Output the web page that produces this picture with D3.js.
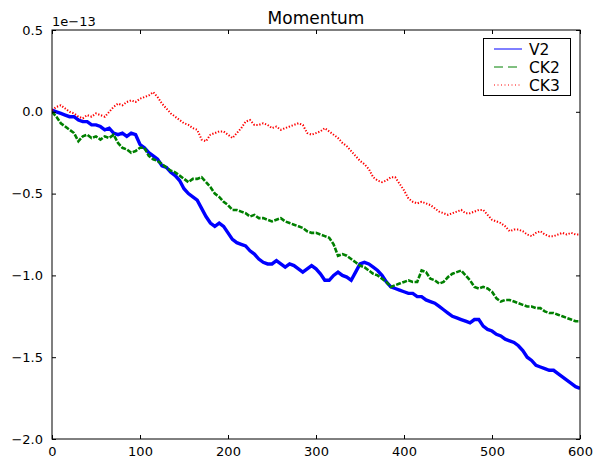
<!DOCTYPE html>
<html>
<head>
<meta charset="utf-8">
<script src="https://cdn.jsdelivr.net/npm/d3@7/dist/d3.min.js"></script>
<style>
  html, body { margin: 0; padding: 0; background: #fff; }
  svg { display: block; }
  text { font-family: "DejaVu Sans", sans-serif; fill: #000; }
</style>
</head>
<body>
<svg id="chart" width="607" height="461"></svg>
<script>
// ---- data (values in units of 1e-13) ----
const xStep = 5;
const xValues = d3.range(0, 601, xStep);
const xTicks = [0, 100, 200, 300, 400, 500, 600];
const yTicks = [0.5, 0.0, -0.5, -1.0, -1.5, -2.0];
const seriesNames = ["V2", "CK2", "CK3"];
const offsetLabel = "1e\u221213";
const titleText = "Momentum";

const v2 = [
  0.01, 0.00, -0.01, -0.02, -0.03, -0.03, -0.05, -0.06, -0.06, -0.08,
  -0.08, -0.09, -0.11, -0.10, -0.13, -0.14, -0.13, -0.15, -0.13, -0.14,
  -0.20, -0.22, -0.25, -0.27, -0.29, -0.33, -0.34, -0.37, -0.39, -0.42,
  -0.47, -0.50, -0.52, -0.54, -0.59, -0.64, -0.68, -0.70, -0.68, -0.70,
  -0.74, -0.78, -0.80, -0.81, -0.82, -0.85, -0.87, -0.90, -0.92, -0.93,
  -0.93, -0.91, -0.93, -0.95, -0.93, -0.94, -0.96, -0.98, -0.96, -0.94,
  -0.96, -0.99, -1.03, -1.03, -1.00, -0.98, -1.00, -1.01, -1.03, -0.98,
  -0.93, -0.92, -0.93, -0.95, -0.97, -1.00, -1.04, -1.07, -1.08, -1.09,
  -1.10, -1.11, -1.11, -1.13, -1.13, -1.15, -1.16, -1.17, -1.19, -1.21,
  -1.23, -1.25, -1.26, -1.27, -1.28, -1.29, -1.27, -1.27, -1.31, -1.33,
  -1.34, -1.36, -1.37, -1.39, -1.40, -1.41, -1.43, -1.46, -1.50, -1.52,
  -1.55, -1.56, -1.57, -1.58, -1.58, -1.60, -1.62, -1.64, -1.66, -1.68,
  -1.69
];
const ck2 = [
  0.00, -0.03, -0.07, -0.09, -0.11, -0.13, -0.18, -0.15, -0.14, -0.16,
  -0.15, -0.17, -0.15, -0.16, -0.14, -0.19, -0.22, -0.23, -0.25, -0.24,
  -0.22, -0.22, -0.27, -0.29, -0.30, -0.32, -0.34, -0.36, -0.37, -0.39,
  -0.41, -0.43, -0.41, -0.41, -0.40, -0.43, -0.46, -0.50, -0.52, -0.55,
  -0.57, -0.60, -0.60, -0.61, -0.62, -0.64, -0.63, -0.65, -0.65, -0.66,
  -0.67, -0.66, -0.65, -0.67, -0.68, -0.69, -0.70, -0.71, -0.73, -0.74,
  -0.74, -0.75, -0.76, -0.77, -0.81, -0.88, -0.87, -0.88, -0.90, -0.92,
  -0.94, -0.95, -0.97, -0.99, -1.00, -1.02, -1.04, -1.07, -1.06, -1.05,
  -1.04, -1.03, -1.04, -1.04, -0.97, -0.98, -1.02, -1.03, -1.05, -1.04,
  -1.01, -0.99, -0.98, -0.97, -1.00, -1.03, -1.07, -1.08, -1.07, -1.08,
  -1.10, -1.14, -1.16, -1.15, -1.15, -1.16, -1.17, -1.18, -1.19, -1.19,
  -1.20, -1.20, -1.22, -1.23, -1.23, -1.24, -1.25, -1.26, -1.27, -1.28,
  -1.28
];
const ck3 = [
  0.01, 0.03, 0.04, 0.02, 0.00, -0.01, -0.03, -0.04, -0.02, -0.03,
  -0.01, -0.02, -0.03, 0.00, 0.03, 0.05, 0.04, 0.06, 0.07, 0.06,
  0.08, 0.09, 0.10, 0.12, 0.09, 0.05, 0.02, -0.01, -0.03, -0.05,
  -0.07, -0.08, -0.10, -0.11, -0.17, -0.18, -0.14, -0.13, -0.12, -0.12,
  -0.14, -0.16, -0.13, -0.10, -0.06, -0.05, -0.08, -0.08, -0.07, -0.08,
  -0.10, -0.09, -0.11, -0.10, -0.09, -0.08, -0.07, -0.08, -0.13, -0.14,
  -0.13, -0.12, -0.10, -0.12, -0.14, -0.16, -0.19, -0.21, -0.24, -0.27,
  -0.30, -0.32, -0.35, -0.40, -0.42, -0.43, -0.42, -0.40, -0.40, -0.44,
  -0.48, -0.53, -0.55, -0.56, -0.55, -0.56, -0.57, -0.59, -0.61, -0.62,
  -0.63, -0.62, -0.61, -0.60, -0.62, -0.62, -0.61, -0.60, -0.60, -0.63,
  -0.66, -0.67, -0.68, -0.70, -0.73, -0.72, -0.72, -0.73, -0.75, -0.76,
  -0.74, -0.73, -0.75, -0.76, -0.76, -0.75, -0.74, -0.75, -0.74, -0.75,
  -0.75
];

// ---- layout ----
const svg = d3.select("#chart");
const L = 52, R = 580, T = 30, B = 439;
const x = d3.scaleLinear().domain([0, 600]).range([L, R]);
const y = d3.scaleLinear().domain([-2.0, 0.5]).range([B, T]);

const styles = [
  { name: seriesNames[0], data: v2,  color: "#0000ff", width: 3.4, dash: null,      legDash: null,  legWidth: 1 },
  { name: seriesNames[1], data: ck2, color: "#008000", width: 2.6, dash: "5,1.5",   legDash: "9,5", legWidth: 1 },
  { name: seriesNames[2], data: ck3, color: "#ff0000", width: 2.0, dash: "1.3,1.7", legDash: "1,2.5", legWidth: 1 }
];

const line = d3.line().x((d, i) => x(xValues[i])).y(d => y(d));

svg.append("defs").append("clipPath").attr("id", "clip")
  .append("rect").attr("x", L).attr("y", T).attr("width", R - L).attr("height", B - T);

const plot = svg.append("g").attr("clip-path", "url(#clip)");
styles.forEach(s => {
  plot.append("path")
    .datum(s.data)
    .attr("d", line)
    .attr("fill", "none")
    .attr("stroke", s.color)
    .attr("stroke-width", s.width)
    .attr("stroke-linejoin", "miter")
    .attr("stroke-dasharray", s.dash);
});

// ---- axes ----
const fmt = d3.format(".1f");
const fontSize = 13;

const gB = svg.append("g").attr("transform", `translate(0,${B})`)
  .call(d3.axisBottom(x).tickValues(xTicks).tickSizeInner(-4).tickSizeOuter(0).tickPadding(8).tickFormat(d3.format("d")));
const gT = svg.append("g").attr("transform", `translate(0,${T})`)
  .call(d3.axisTop(x).tickValues(xTicks).tickSizeInner(-4).tickSizeOuter(0).tickFormat(""));
const gL = svg.append("g").attr("transform", `translate(${L},0)`)
  .call(d3.axisLeft(y).tickValues(yTicks).tickSizeInner(-4).tickSizeOuter(0).tickPadding(9).tickFormat(fmt));
const gR = svg.append("g").attr("transform", `translate(${R},0)`)
  .call(d3.axisRight(y).tickValues(yTicks).tickSizeInner(-4).tickSizeOuter(0).tickFormat(""));

[gB, gT, gL, gR].forEach(g => {
  g.select(".domain").remove();
  g.selectAll(".tick line").attr("stroke", "#000").attr("stroke-width", 1);
  g.selectAll("text").attr("font-size", fontSize).attr("font-family", "DejaVu Sans").attr("fill", "#000");
});

// frame
svg.append("rect")
  .attr("x", L).attr("y", T).attr("width", R - L).attr("height", B - T)
  .attr("fill", "none").attr("stroke", "#000").attr("stroke-width", 1);

// offset text and title
svg.append("text").attr("x", L).attr("y", 26)
  .attr("font-size", fontSize).text(offsetLabel);
svg.append("text").attr("x", (L + R) / 2).attr("y", 24)
  .attr("text-anchor", "middle").attr("font-size", 17).text(titleText);

// ---- legend ----
const lg = svg.append("g");
lg.append("rect").attr("x", 483.5).attr("y", 38.5).attr("width", 87).attr("height", 57)
  .attr("fill", "#fff").attr("stroke", "#000").attr("stroke-width", 1);
styles.forEach((s, i) => {
  const yy = 49 + i * 18;
  lg.append("line").attr("x1", 494).attr("x2", 522).attr("y1", yy).attr("y2", yy)
    .attr("stroke", s.color).attr("stroke-width", s.legWidth).attr("stroke-dasharray", s.legDash);
  lg.append("text").attr("x", 529).attr("y", yy).attr("dy", "0.36em")
    .attr("font-size", 15.5).text(s.name);
});
</script>
</body>
</html>
